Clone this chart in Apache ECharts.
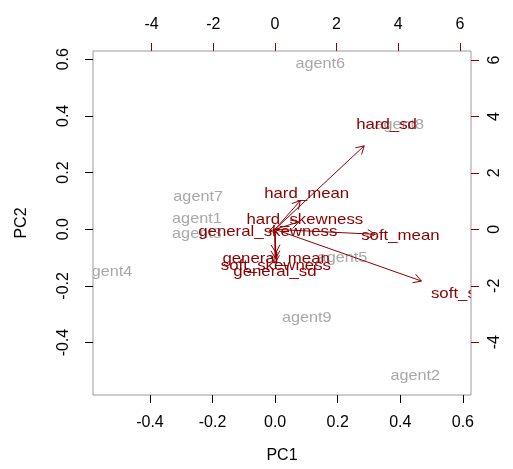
<!DOCTYPE html>
<html>
<head>
<meta charset="utf-8">
<script src="https://cdn.jsdelivr.net/npm/echarts@6/dist/echarts.min.js"></script>
<style>
  html, body { margin: 0; padding: 0; background: #fff; }
  #chart { width: 513px; height: 469px; }
</style>
</head>
<body>
<div id="chart"></div>
<script>
// observations (scores, bottom/left axes)
var agentNames = ['agent1', 'agent2', 'agent3', 'agent4', 'agent5', 'agent6', 'agent7', 'agent8', 'agent9'];
var agentPC1 = [-0.25, 0.448, -0.25, -0.536, 0.215, 0.144, -0.246, 0.397, 0.101];
var agentPC2 = [0.038, -0.519, -0.018, -0.15, -0.101, 0.582, 0.116, 0.37, -0.312];

// variables (loadings, top/right axes)
var varNames = ['hard_sd', 'soft_sd', 'soft_mean', 'hard_mean', 'hard_skewness',
  'general_skewness', 'general_mean', 'soft_skewness', 'general_sd'];
var varX = [3.62, 5.94, 4.07, 1.03, 0.97, -0.23, 0.04, 0.03, 0.0];
var varY = [3.70, -2.29, -0.22, 1.27, 0.33, -0.08, -1.03, -1.29, -1.5];

var pcTicks = [-0.4, -0.2, 0, 0.2, 0.4, 0.6];
var loadTicks = [-4, -2, 0, 2, 4, 6];

var FONT = 'Liberation Sans';
var darkred = '#8b0000';
var grey = '#a8a8a8';

var chart = echarts.init(document.getElementById('chart'));

function fmt1(v) { return v.toFixed(1); }

var agentData = agentNames.map(function (n, i) { return [agentPC1[i], agentPC2[i], i]; });
var varData = varNames.map(function (n, i) { return [varX[i], varY[i], i]; });

// the source picture is a bit wider than tall, so stretch the labels a little
function label(p, txt, color, sx) {
  return {
    type: 'text', x: p[0], y: p[1], scaleX: sx,
    style: { text: txt, fill: color, font: '15px "' + FONT + '"',
      align: 'center', verticalAlign: 'middle' }
  };
}

var options = {
  animation: false,
  grid: {
    left: 93, right: 42, top: 51, bottom: 74,
    show: true, borderColor: '#9a9a9a', borderWidth: 1, backgroundColor: 'transparent'
  },
  xAxis: [
    {
      type: 'value', position: 'bottom', min: -0.582, max: 0.626,
      name: 'PC1', nameLocation: 'middle', nameGap: 53,
      nameTextStyle: { fontFamily: FONT, fontSize: 16, color: '#000' },
      axisLine: { show: false, onZero: false },
      splitLine: { show: false },
      axisTick: { show: true, length: 8, customValues: pcTicks, lineStyle: { color: '#000' } },
      axisLabel: { customValues: pcTicks, formatter: fmt1, margin: 20,
        fontFamily: FONT, fontSize: 16, color: '#000' }
    },
    {
      type: 'value', position: 'top', min: -5.90, max: 6.36,
      axisLine: { show: false, onZero: false },
      splitLine: { show: false },
      axisTick: { show: true, length: 8, customValues: loadTicks, lineStyle: { color: darkred } },
      axisLabel: { customValues: loadTicks, margin: 18,
        fontFamily: FONT, fontSize: 16, color: '#000' }
    }
  ],
  yAxis: [
    {
      type: 'value', position: 'left', min: -0.585, max: 0.629,
      name: 'PC2', nameLocation: 'middle', nameGap: 63, nameRotate: 90,
      nameTextStyle: { fontFamily: FONT, fontSize: 16, color: '#000' },
      axisLine: { show: false, onZero: false },
      splitLine: { show: false },
      axisTick: { show: true, length: 8, customValues: pcTicks, lineStyle: { color: '#000' } },
      axisLabel: { customValues: pcTicks, formatter: fmt1, rotate: 90, margin: 21,
        fontFamily: FONT, fontSize: 16, color: '#000' }
    },
    {
      type: 'value', position: 'right', min: -5.87, max: 6.32,
      axisLine: { show: false, onZero: false },
      splitLine: { show: false },
      axisTick: { show: true, length: 8, customValues: loadTicks, lineStyle: { color: darkred } },
      axisLabel: { customValues: loadTicks, rotate: 90, margin: 16,
        fontFamily: FONT, fontSize: 16, color: '#000' }
    }
  ],
  series: [
    {
      // observation labels
      type: 'custom', xAxisIndex: 0, yAxisIndex: 0, clip: true, z: 2,
      data: agentData,
      renderItem: function (params, api) {
        var p = api.coord([api.value(0), api.value(1)]);
        return label(p, agentNames[api.value(2)], grey, 1.08);
      }
    },
    {
      // variable labels
      type: 'custom', xAxisIndex: 1, yAxisIndex: 1, clip: true, z: 3,
      data: varData,
      renderItem: function (params, api) {
        var p = api.coord([api.value(0), api.value(1)]);
        return label(p, varNames[api.value(2)], darkred, 1.12);
      }
    },
    {
      // arrows drawn to 0.8 of the loading, like R biplot
      type: 'custom', xAxisIndex: 1, yAxisIndex: 1, clip: true, z: 4,
      data: varData,
      renderItem: function (params, api) {
        var o = api.coord([0, 0]);
        var t = api.coord([api.value(0) * 0.8, api.value(1) * 0.8]);
        var ang = Math.atan2(t[1] - o[1], t[0] - o[0]);
        var len = 9, a = Math.PI / 6;
        var h1 = [t[0] - len * Math.cos(ang - a), t[1] - len * Math.sin(ang - a)];
        var h2 = [t[0] - len * Math.cos(ang + a), t[1] - len * Math.sin(ang + a)];
        var st = { stroke: darkred, lineWidth: 1, fill: null };
        return {
          type: 'group',
          children: [
            { type: 'line', shape: { x1: o[0], y1: o[1], x2: t[0], y2: t[1] }, style: st },
            { type: 'polyline', shape: { points: [h1, t, h2] }, style: st }
          ]
        };
      }
    }
  ]
};

chart.setOption(options);
</script>
</body>
</html>
